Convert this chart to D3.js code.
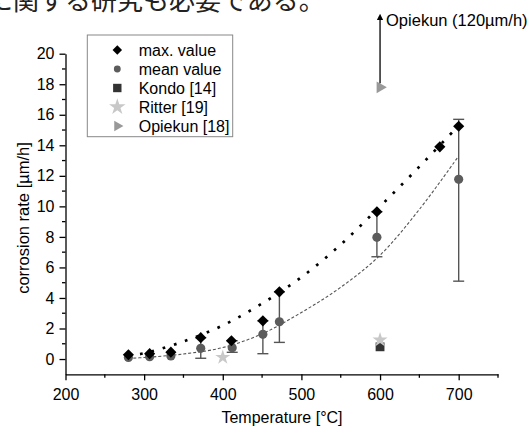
<!DOCTYPE html>
<html lang="ja">
<head>
<meta charset="UTF-8">
<script src="https://cdn.jsdelivr.net/npm/d3@7"></script>
<style>
  body { margin: 0; background: #fff; }
  svg { display: block; font-family: "Liberation Sans", Arial, sans-serif; }
  .tick text { font-size: 16px; fill: #000; }
  .axis path, .axis line { stroke: #000; stroke-width: 1.3px; }
</style>
</head>
<body>
<div id="chart"></div>
<script>
// max. value (diamonds)
var maxT = [280, 307, 334, 372, 411, 451, 472, 596, 676, 700];
var maxV = [0.28, 0.35, 0.45, 1.4, 1.2, 2.5, 4.4, 9.65, 13.9, 15.25];

// mean value (circles) with error bars
var meanT = [280, 307, 334, 372, 412, 451, 472, 596, 700];
var meanV = [0.1, 0.15, 0.2, 0.7, 0.74, 1.62, 2.44, 7.97, 11.77];
var errLow = [0.1, 0.15, 0.2, 0.05, 0.44, 0.35, 1.09, 6.7, 5.1];
var errHigh = [0.1, 0.15, 0.2, 1.4, 1.2, 2.5, 4.4, 9.65, 15.7];

// fit curves
var fitT = [280, 300, 350, 400, 450, 500, 550, 600, 650, 700];
var maxFitV = [0.22, 0.38, 1.15, 2.2, 3.64, 5.36, 7.5, 10.0, 12.6, 15.3];
var meanFitV = [0.05, 0.1, 0.33, 0.75, 1.65, 3.05, 4.7, 6.8, 9.8, 13.3];

// literature points
var kondoT = [600], kondoV = [0.8];
var ritterT = [400, 600], ritterV = [0.11, 1.25];
var opiekunT = [600], opiekunV = [17.8];

var xMajor = [200, 300, 400, 500, 600, 700];
var xMinor = [250, 350, 450, 550, 650, 750];
var yMajor = [0, 2, 4, 6, 8, 10, 12, 14, 16, 18, 20];
var yMinor = [1, 3, 5, 7, 9, 11, 13, 15, 17, 19];

var legendLabels = ["max. value", "mean value", "Kondo [14]", "Ritter [19]", "Opiekun [18]"];

var width = 528, height = 427;

var x = d3.scaleLinear().domain([200, 750]).range([65.5, 498]);
var y = d3.scaleLinear().domain([-1, 20]).range([374.3, 53.7]);

var svg = d3.select("#chart").append("svg")
    .attr("width", width)
    .attr("height", height);

// cut-off line of Japanese text at the top
svg.append("text")
    .attr("x", -13)
    .attr("y", 9.5)
    .style("font-family", "'Noto Sans CJK JP', sans-serif")
    .style("font-size", "26px")
    .attr("fill", "#222")
    .text("に関する研究も必要である。");

// axes
var xAxis = svg.append("g").attr("class", "axis")
    .attr("transform", "translate(0," + y(-1) + ")")
    .call(d3.axisBottom(x).tickValues(xMajor).tickSize(6).tickSizeOuter(0).tickPadding(5));
xAxis.selectAll("text").attr("dy", "0.9em");
xAxis.append("g").selectAll("line").data(xMinor).enter().append("line")
    .attr("x1", function(d){return x(d);}).attr("x2", function(d){return x(d);})
    .attr("y1", 0).attr("y2", 3.5);

var yAxis = svg.append("g").attr("class", "axis")
    .attr("transform", "translate(" + x(200) + ",0)")
    .call(d3.axisLeft(y).tickValues(yMajor).tickSize(6).tickSizeOuter(0).tickPadding(5));
yAxis.append("g").selectAll("line").data(yMinor).enter().append("line")
    .attr("y1", function(d){return y(d);}).attr("y2", function(d){return y(d);})
    .attr("x1", 0).attr("x2", -3.5);

svg.append("text")
    .attr("x", 282).attr("y", 423)
    .attr("text-anchor", "middle")
    .style("font-size", "16px")
    .text("Temperature [°C]");

svg.append("text")
    .attr("transform", "translate(29,218) rotate(-90)")
    .attr("text-anchor", "middle")
    .style("font-size", "16.5px")
    .text("corrosion rate [µm/h]");

// fit curves
var line = d3.line().curve(d3.curveCatmullRom);

svg.append("path")
    .attr("d", line(fitT.map(function(t, i){return [x(t), y(meanFitV[i])];})))
    .attr("fill", "none")
    .attr("stroke", "#555")
    .attr("stroke-width", 1.1)
    .attr("stroke-dasharray", "3,2");

svg.append("path")
    .attr("d", line(fitT.map(function(t, i){return [x(t), y(maxFitV[i])];})))
    .attr("fill", "none")
    .attr("stroke", "#000")
    .attr("stroke-width", 2.7)
    .attr("stroke-dasharray", "2.7,9");

// error bars
var bars = svg.append("g").attr("stroke", "#555").attr("stroke-width", 1.4);
meanT.forEach(function(t, i){
  if (errHigh[i] <= errLow[i]) return;
  bars.append("line").attr("x1", x(t)).attr("x2", x(t)).attr("y1", y(errLow[i])).attr("y2", y(errHigh[i]));
  [errLow[i], errHigh[i]].forEach(function(v){
    bars.append("line").attr("x1", x(t) - 5.5).attr("x2", x(t) + 5.5).attr("y1", y(v)).attr("y2", y(v));
  });
});

// markers
var sym = {
  diamond: d3.symbol().type(d3.symbolSquare).size(62)(),
  circle: d3.symbol().type(d3.symbolCircle).size(66)(),
  square: d3.symbol().type(d3.symbolSquare).size(78)(),
  star: d3.symbol().type(d3.symbolStar).size(70)(),
  tri: d3.symbol().type(d3.symbolTriangle).size(60)()
};

function drawMarks(ts, vs, shape, fill, rot) {
  svg.append("g").selectAll("path").data(ts).enter().append("path")
      .attr("d", sym[shape])
      .attr("transform", function(t, i){return "translate(" + x(t) + "," + y(vs[i]) + ") rotate(" + (rot || 0) + ")";})
      .attr("fill", fill);
}

drawMarks(meanT, meanV, "circle", "#5c5c5c");
drawMarks(maxT, maxV, "diamond", "#000", 45);
drawMarks(kondoT, kondoV, "square", "#333");
drawMarks(ritterT, ritterV, "star", "#c8c8c8");
drawMarks(opiekunT, opiekunV, "tri", "#999", 90);

// arrow for Opiekun value off the chart
svg.append("defs").append("marker")
    .attr("id", "arrow")
    .attr("viewBox", "0 0 10 10")
    .attr("refX", 5).attr("refY", 5)
    .attr("markerWidth", 5).attr("markerHeight", 5)
    .attr("orient", "auto")
  .append("path").attr("d", "M0,0L10,5L0,10z").attr("fill", "#000");

svg.append("line")
    .attr("x1", x(opiekunT[0])).attr("x2", x(opiekunT[0]))
    .attr("y1", y(opiekunV[0]) - 4).attr("y2", 17)
    .attr("stroke", "#000").attr("stroke-width", 1.3)
    .attr("marker-end", "url(#arrow)");

svg.append("text")
    .attr("x", x(opiekunT[0]) + 6).attr("y", 25.5)
    .style("font-size", "16.5px")
    .text("Opiekun (120µm/h)");

// legend
var legend = svg.append("g");
legend.append("rect")
    .attr("x", 87.3).attr("y", 35)
    .attr("width", 145.4).attr("height", 101.7)
    .attr("fill", "#fff").attr("stroke", "#888").attr("stroke-width", 1);

var legendShapes = [
  {shape: "diamond", fill: "#000", rot: 45, s: 0.85},
  {shape: "circle", fill: "#5c5c5c", rot: 0, s: 0.75},
  {shape: "square", fill: "#333", rot: 0, s: 0.95},
  {shape: "star", fill: "#c8c8c8", rot: 0, s: 1.1},
  {shape: "tri", fill: "#999", rot: 90, s: 0.9}
];

legendLabels.forEach(function(label, i){
  var ly = 50 + i * 19;
  legend.append("path")
      .attr("d", sym[legendShapes[i].shape])
      .attr("transform", "translate(117.3," + ly + ") rotate(" + legendShapes[i].rot + ") scale(" + legendShapes[i].s + ")")
      .attr("fill", legendShapes[i].fill);
  legend.append("text")
      .attr("x", 138.7).attr("y", ly + 5.5)
      .style("font-size", "16px")
      .text(label);
});
</script>
</body>
</html>
